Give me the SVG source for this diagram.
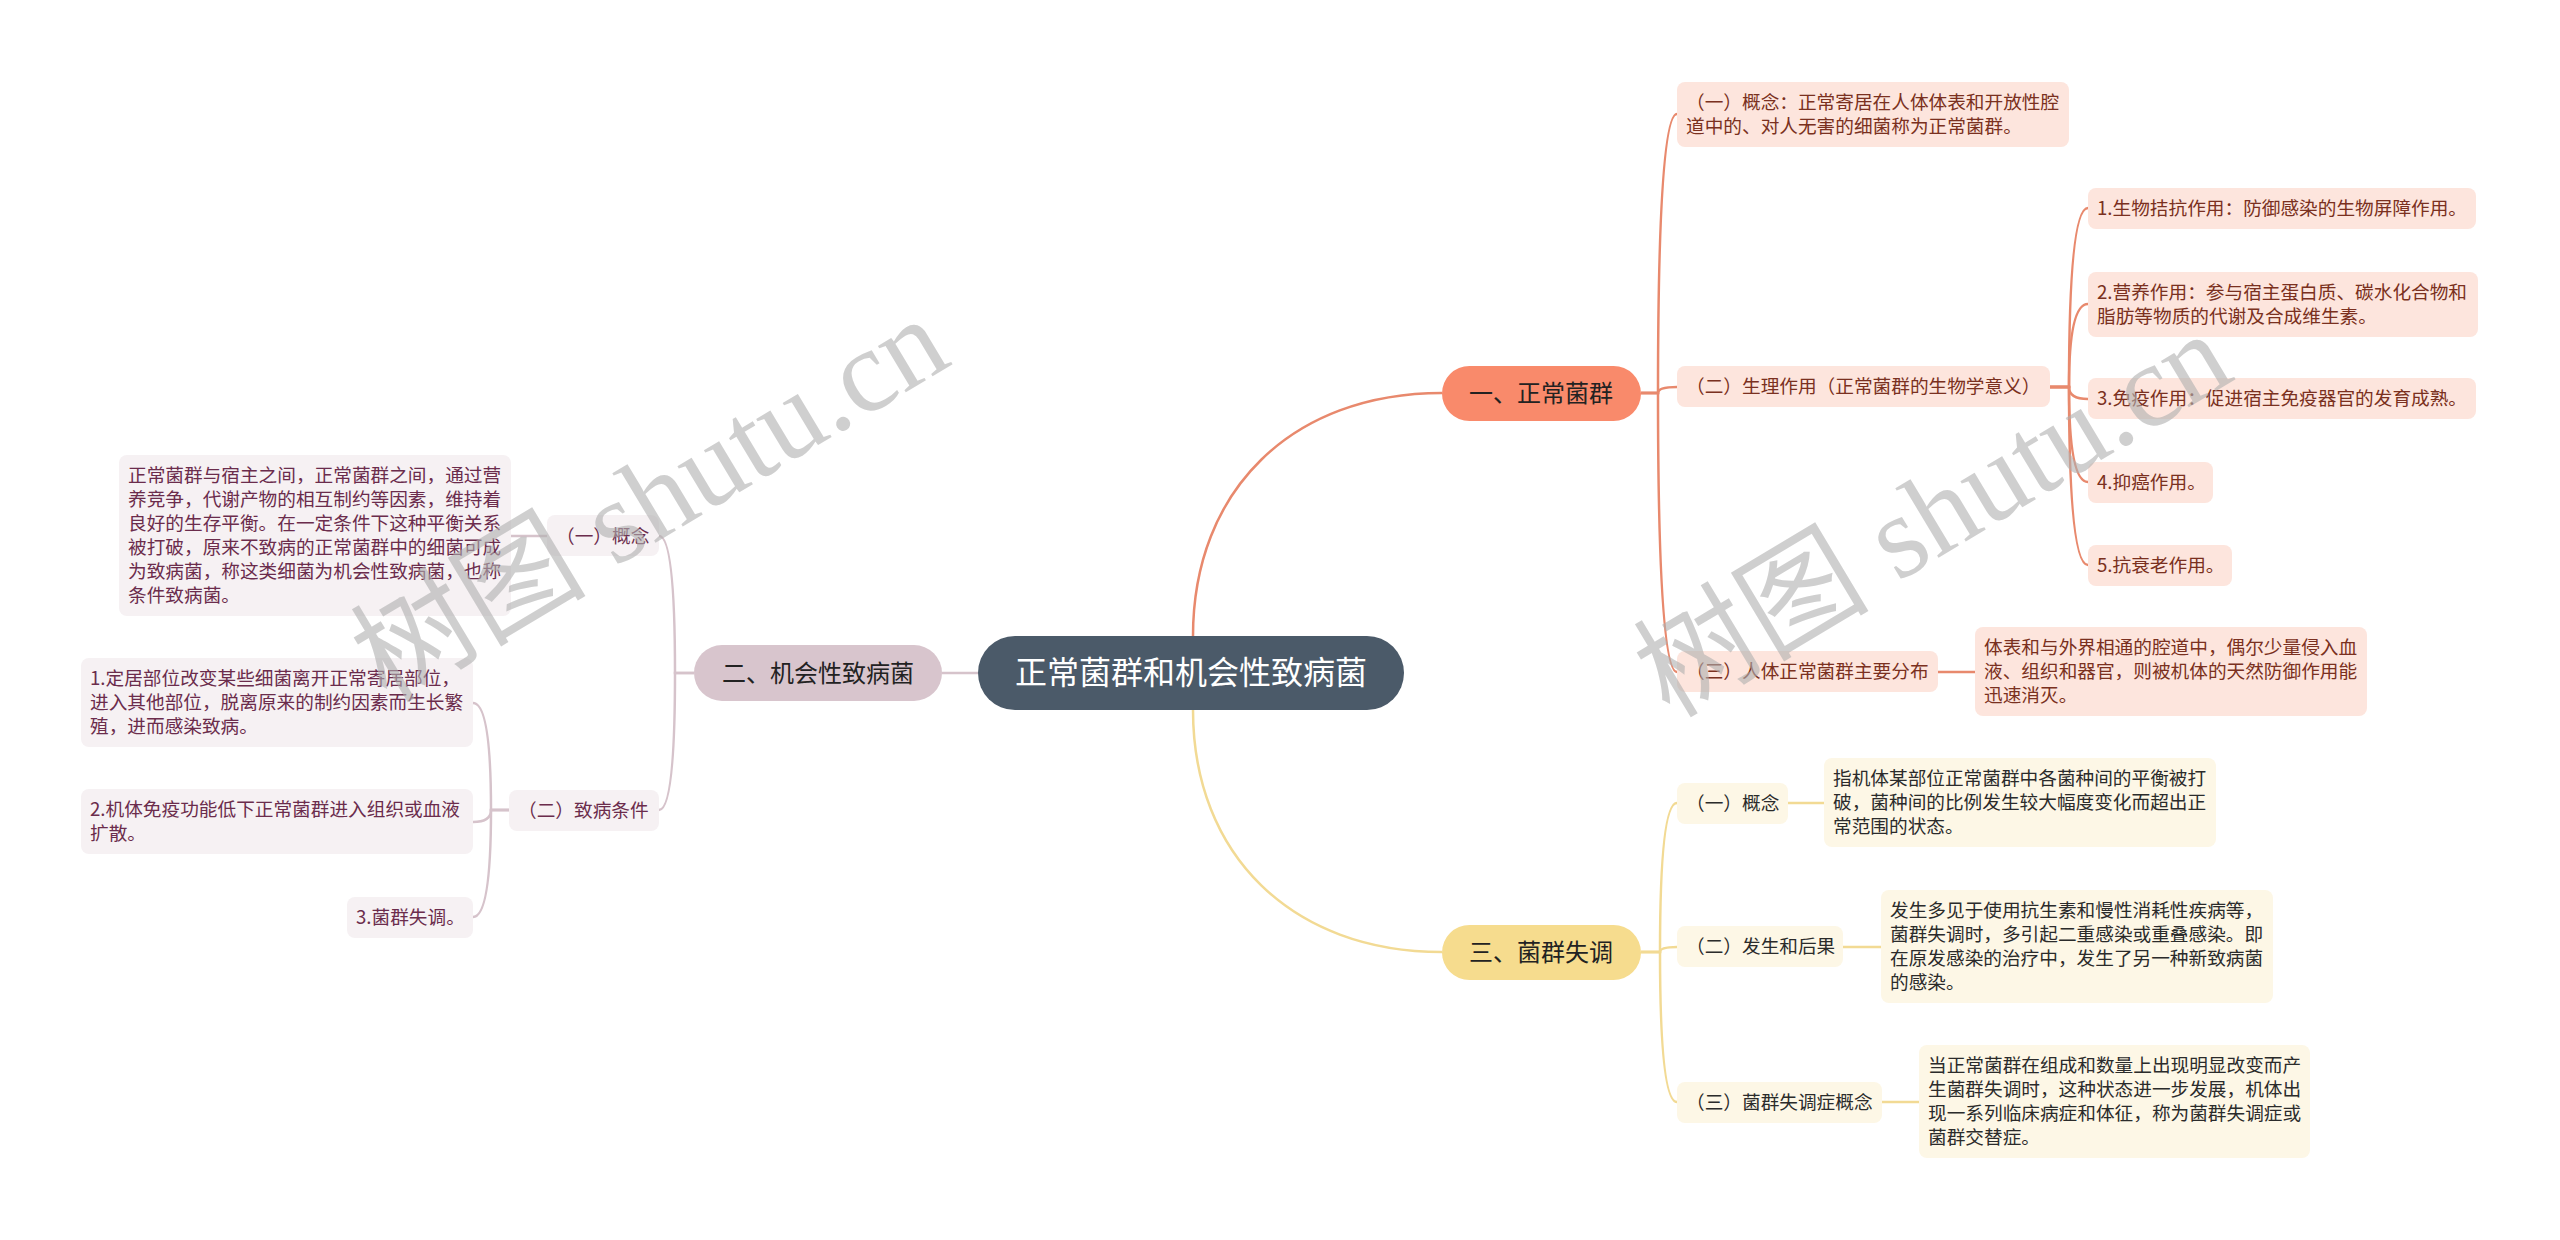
<svg xmlns="http://www.w3.org/2000/svg" width="2560" height="1240" viewBox="0 0 2560 1240">
<style>
text{font-family:"Noto Sans CJK SC","Noto Sans",sans-serif;}
.root-box{fill:#4b5a69;}
.root-t{fill:#ffffff;font-size:32px;text-anchor:middle;}
.b1{fill:#f98a6b;}
.b2{fill:#d8c5cd;}
.b3{fill:#f6dc8e;}
.bt{fill:#222;font-size:24px;text-anchor:middle;}
.s1{fill:#fde5dd;}
.s2{fill:#f6f1f3;}
.s3{fill:#fdf7e6;}
.t1{fill:#7a3020;font-size:18.67px;}
.t2{fill:#6b2c4c;font-size:18.67px;}
.t3{fill:#2b2b2b;font-size:18.67px;}
.c1{fill:none;stroke:#e8896d;stroke-width:2.5;}
.c2{fill:none;stroke:#d6c3cb;stroke-width:2.5;}
.c3{fill:none;stroke:#f2da94;stroke-width:2.5;}
.wm{font-family:"Liberation Serif","Noto Sans CJK SC",serif;font-size:118px;fill:#b0b0b0;opacity:0.6;text-anchor:middle;}
</style>
<rect width="2560" height="1240" fill="#ffffff"/>

<g id="connectors">
  <path class="c1" d="M1193 636 C1193 490 1292 393 1442 393"/>
  <path class="c2" d="M978 673 L942 673"/>
  <path class="c3" d="M1193 710 C1193 855 1292 952 1442 952"/>
  <!-- branch 1 -->
  <path class="c1" d="M1641 393 L1658 393 Q1658 114 1677 114"/>
  <path class="c1" d="M1641 393 L1658 393 Q1658 387 1677 387"/>
  <path class="c1" d="M1641 393 L1658 393 Q1658 672 1677 672"/>
  <path class="c1" d="M2050 387 L2069 387 Q2069 208 2088 208"/>
  <path class="c1" d="M2050 387 L2069 387 Q2069 304 2088 304"/>
  <path class="c1" d="M2050 387 L2069 387 Q2069 399 2088 399"/>
  <path class="c1" d="M2050 387 L2069 387 Q2069 482 2088 482"/>
  <path class="c1" d="M2050 387 L2069 387 Q2069 565 2088 565"/>
  <path class="c1" d="M1938 672 L1975 672"/>
  <!-- branch 2 -->
  <path class="c2" d="M694 673 L675 673 Q675 536 659 536"/>
  <path class="c2" d="M694 673 L675 673 Q675 810 659 810"/>
  <path class="c2" d="M547 536 L511 536"/>
  <path class="c2" d="M509 810 L491 810 Q491 703 473 703"/>
  <path class="c2" d="M509 810 L491 810 Q491 822 473 822"/>
  <path class="c2" d="M509 810 L491 810 Q491 917 473 917"/>
  <!-- branch 3 -->
  <path class="c3" d="M1641 952 L1660 952 Q1660 803 1677 803"/>
  <path class="c3" d="M1641 952 L1660 952 Q1660 947 1677 947"/>
  <path class="c3" d="M1641 952 L1660 952 Q1660 1102 1677 1102"/>
  <path class="c3" d="M1788 803 L1824 803"/>
  <path class="c3" d="M1843 947 L1881 947"/>
  <path class="c3" d="M1882 1102 L1919 1102"/>
</g>

<g id="root">
  <rect class="root-box" x="978" y="636" width="426" height="74" rx="37"/>
  <text class="root-t" x="1191" y="684">正常菌群和机会性致病菌</text>
</g>

<g id="branch1">
  <rect class="b1" x="1442" y="366" width="199" height="55" rx="27.5"/>
  <text class="bt" x="1541" y="402">一、正常菌群</text>
</g>
<g id="branch2">
  <rect class="b2" x="694" y="645" width="248" height="56" rx="28"/>
  <text class="bt" x="818" y="682">二、机会性致病菌</text>
</g>
<g id="branch3">
  <rect class="b3" x="1442" y="925" width="199" height="55" rx="27.5"/>
  <text class="bt" x="1541" y="961">三、菌群失调</text>
</g>

<g id="b1-concept">
  <rect class="s1" x="1677" y="82" width="392" height="65" rx="8"/>
  <text class="t1" x="1686" y="109">（一）概念：正常寄居在人体体表和开放性腔</text>
  <text class="t1" x="1686" y="133">道中的、对人无害的细菌称为正常菌群。</text>
</g>
<g id="b1-physio">
  <rect class="s1" x="1677" y="366" width="373" height="41" rx="8"/>
  <text class="t1" x="1686" y="393">（二）生理作用（正常菌群的生物学意义）</text>
</g>
<g id="b1-p1">
  <rect class="s1" x="2088" y="188" width="388" height="41" rx="8"/>
  <text class="t1" x="2097" y="215">1.生物拮抗作用：防御感染的生物屏障作用。</text>
</g>
<g id="b1-p2">
  <rect class="s1" x="2088" y="272" width="390" height="65" rx="8"/>
  <text class="t1" x="2097" y="299">2.营养作用：参与宿主蛋白质、碳水化合物和</text>
  <text class="t1" x="2097" y="323">脂肪等物质的代谢及合成维生素。</text>
</g>
<g id="b1-p3">
  <rect class="s1" x="2088" y="378" width="388" height="41" rx="8"/>
  <text class="t1" x="2097" y="405">3.免疫作用：促进宿主免疫器官的发育成熟。</text>
</g>
<g id="b1-p4">
  <rect class="s1" x="2088" y="462" width="125" height="41" rx="8"/>
  <text class="t1" x="2097" y="489">4.抑癌作用。</text>
</g>
<g id="b1-p5">
  <rect class="s1" x="2088" y="545" width="144" height="41" rx="8"/>
  <text class="t1" x="2097" y="572">5.抗衰老作用。</text>
</g>
<g id="b1-dist">
  <rect class="s1" x="1677" y="651" width="261" height="41" rx="8"/>
  <text class="t1" x="1686" y="678">（三）人体正常菌群主要分布</text>
</g>
<g id="b1-dist-desc">
  <rect class="s1" x="1975" y="627" width="392" height="89" rx="8"/>
  <text class="t1" x="1984" y="654">体表和与外界相通的腔道中，偶尔少量侵入血</text>
  <text class="t1" x="1984" y="678">液、组织和器官，则被机体的天然防御作用能</text>
  <text class="t1" x="1984" y="702">迅速消灭。</text>
</g>

<g id="b2-concept">
  <rect class="s2" x="547" y="515" width="112" height="41" rx="8"/>
  <text class="t2" x="556" y="543">（一）概念</text>
</g>
<g id="b2-concept-desc">
  <rect class="s2" x="119" y="455" width="392" height="161" rx="8"/>
  <text class="t2" x="128" y="482">正常菌群与宿主之间，正常菌群之间，通过营</text>
  <text class="t2" x="128" y="506">养竞争，代谢产物的相互制约等因素，维持着</text>
  <text class="t2" x="128" y="530">良好的生存平衡。在一定条件下这种平衡关系</text>
  <text class="t2" x="128" y="554">被打破，原来不致病的正常菌群中的细菌可成</text>
  <text class="t2" x="128" y="578">为致病菌，称这类细菌为机会性致病菌，也称</text>
  <text class="t2" x="128" y="602">条件致病菌。</text>
</g>
<g id="b2-cond">
  <rect class="s2" x="509" y="790" width="150" height="41" rx="8"/>
  <text class="t2" x="518" y="817">（二）致病条件</text>
</g>
<g id="b2-c1">
  <rect class="s2" x="81" y="658" width="392" height="89" rx="8"/>
  <text class="t2" x="90" y="685">1.定居部位改变某些细菌离开正常寄居部位，</text>
  <text class="t2" x="90" y="709">进入其他部位，脱离原来的制约因素而生长繁</text>
  <text class="t2" x="90" y="733">殖，进而感染致病。</text>
</g>
<g id="b2-c2">
  <rect class="s2" x="81" y="789" width="392" height="65" rx="8"/>
  <text class="t2" x="90" y="816">2.机体免疫功能低下正常菌群进入组织或血液</text>
  <text class="t2" x="90" y="840">扩散。</text>
</g>
<g id="b2-c3">
  <rect class="s2" x="347" y="897" width="126" height="41" rx="8"/>
  <text class="t2" x="356" y="924">3.菌群失调。</text>
</g>

<g id="b3-concept">
  <rect class="s3" x="1677" y="783" width="111" height="41" rx="8"/>
  <text class="t3" x="1686" y="810">（一）概念</text>
</g>
<g id="b3-concept-desc">
  <rect class="s3" x="1824" y="758" width="392" height="89" rx="8"/>
  <text class="t3" x="1833" y="785">指机体某部位正常菌群中各菌种间的平衡被打</text>
  <text class="t3" x="1833" y="809">破，菌种间的比例发生较大幅度变化而超出正</text>
  <text class="t3" x="1833" y="833">常范围的状态。</text>
</g>
<g id="b3-occur">
  <rect class="s3" x="1677" y="926" width="166" height="41" rx="8"/>
  <text class="t3" x="1686" y="953">（二）发生和后果</text>
</g>
<g id="b3-occur-desc">
  <rect class="s3" x="1881" y="890" width="392" height="113" rx="8"/>
  <text class="t3" x="1890" y="917">发生多见于使用抗生素和慢性消耗性疾病等，</text>
  <text class="t3" x="1890" y="941">菌群失调时，多引起二重感染或重叠感染。即</text>
  <text class="t3" x="1890" y="965">在原发感染的治疗中，发生了另一种新致病菌</text>
  <text class="t3" x="1890" y="989">的感染。</text>
</g>
<g id="b3-syndrome">
  <rect class="s3" x="1677" y="1082" width="205" height="41" rx="8"/>
  <text class="t3" x="1686" y="1109">（三）菌群失调症概念</text>
</g>
<g id="b3-syndrome-desc">
  <rect class="s3" x="1919" y="1045" width="391" height="113" rx="8"/>
  <text class="t3" x="1928" y="1072">当正常菌群在组成和数量上出现明显改变而产</text>
  <text class="t3" x="1928" y="1096">生菌群失调时，这种状态进一步发展，机体出</text>
  <text class="t3" x="1928" y="1120">现一系列临床病症和体征，称为菌群失调症或</text>
  <text class="t3" x="1928" y="1144">菌群交替症。</text>
</g>

<g id="watermarks">
  <text class="wm" transform="translate(650,500) rotate(-31)" dominant-baseline="central">树图 shutu.cn</text>
  <text class="wm" transform="translate(1933,515) rotate(-31)" dominant-baseline="central">树图 shutu.cn</text>
</g>
</svg>
